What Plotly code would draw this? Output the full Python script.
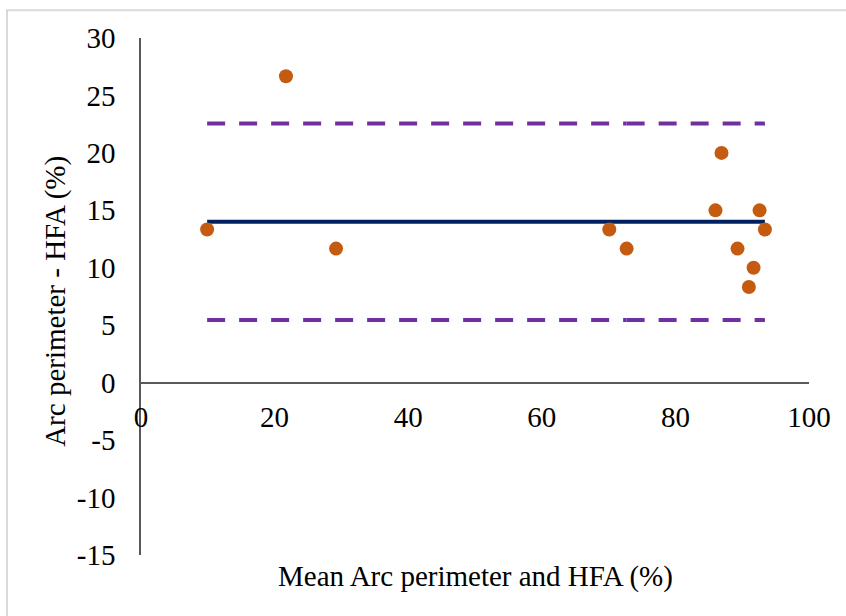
import plotly.graph_objects as go

# Bland-Altman data: mean of the two methods vs. their difference (%)
mean_pct = [9.9, 21.7, 29.2, 70.1, 72.7, 86.0, 86.9, 89.3, 91.0, 91.7, 92.6, 93.4]
diff_pct = [13.33, 26.67, 11.67, 13.33, 11.67, 15.0, 20.0, 11.67, 8.33, 10.0, 15.0, 13.33]

bias = 14.0
upper_loa = 22.55
lower_loa = 5.45
# x where the limit-of-agreement lines are split into two pieces
loa_break = 72.7

y_ticks = [-15, -10, -5, 0, 5, 10, 15, 20, 25, 30]
y_tick_text = ["-15", "-10", "-5", "0", "5", "10", "15", "20", "25", "30"]
x_ticks = [0, 20, 40, 60, 80, 100]
x_tick_text = ["0", "20", "40", "60", "80", "100"]

x_title = "Mean Arc perimeter and HFA (%)"
y_title = "Arc perimeter - HFA (%)"

FONT = "'Liberation Serif', 'Times New Roman', serif"
FS = 29
AXIS_COLOR = "#595959"
LOA_COLOR = "#7030A0"
BIAS_COLOR = "#002060"
POINT_COLOR = "#C55A11"

x_lo, x_hi = min(mean_pct), max(mean_pct)

fig = go.Figure()

# limits of agreement (dashed), each drawn as two pieces
for level in (upper_loa, lower_loa):
    for xs in ([x_lo, loa_break], [loa_break, x_hi]):
        fig.add_trace(go.Scatter(
            x=xs, y=[level, level], mode="lines",
            line=dict(color=LOA_COLOR, width=4, dash="18px,14px"),
            hoverinfo="skip", showlegend=False,
        ))

# mean difference
fig.add_trace(go.Scatter(
    x=[x_lo, x_hi], y=[bias, bias], mode="lines",
    line=dict(color=BIAS_COLOR, width=4),
    hoverinfo="skip", showlegend=False,
))

# observations
fig.add_trace(go.Scatter(
    x=mean_pct, y=diff_pct, mode="markers",
    marker=dict(color=POINT_COLOR, size=14, line=dict(width=0)),
    showlegend=False,
))

fig.update_layout(
    width=846, height=616,
    margin=dict(l=141, r=37, t=38, b=61),
    paper_bgcolor="white", plot_bgcolor="white",
    font=dict(family=FONT, size=FS, color="#000000"),
    xaxis=dict(
        range=[0, 100], tickvals=x_ticks, ticktext=x_tick_text,
        showgrid=False, zeroline=False,
        showline=True, linecolor=AXIS_COLOR, linewidth=1.5,
        anchor="free", position=15 / 45,
        ticks="", ticklabelstandoff=9,
        tickfont=dict(family=FONT, size=FS, color="#000000"),
    ),
    yaxis=dict(
        range=[-15, 30], tickvals=y_ticks, ticktext=y_tick_text,
        showgrid=False, zeroline=False,
        showline=True, linecolor=AXIS_COLOR, linewidth=1.5,
        ticks="", ticklabelstandoff=18,
        tickfont=dict(family=FONT, size=FS, color="#000000"),
    ),
    annotations=[
        dict(text=x_title, xref="paper", yref="paper", x=0.5, y=-0.0425,
             xanchor="center", yanchor="middle", showarrow=False,
             font=dict(family=FONT, size=FS, color="#000000")),
        dict(text=y_title, xref="paper", yref="paper", x=-0.127, y=0.49,
             xanchor="center", yanchor="middle", textangle=-90, showarrow=False,
             font=dict(family=FONT, size=FS, color="#000000")),
    ],
    shapes=[
        # outer chart frame (left and top edges fall inside the page)
        dict(type="rect", xref="paper", yref="paper",
             x0=(7 - 141) / 668, x1=(900 - 141) / 668,
             y0=(555 - 700) / 517.3, y1=(555 - 10) / 517.3,
             line=dict(color="#D9D9D9", width=2), layer="below"),
    ],
)

fig.write_html("out.html")
